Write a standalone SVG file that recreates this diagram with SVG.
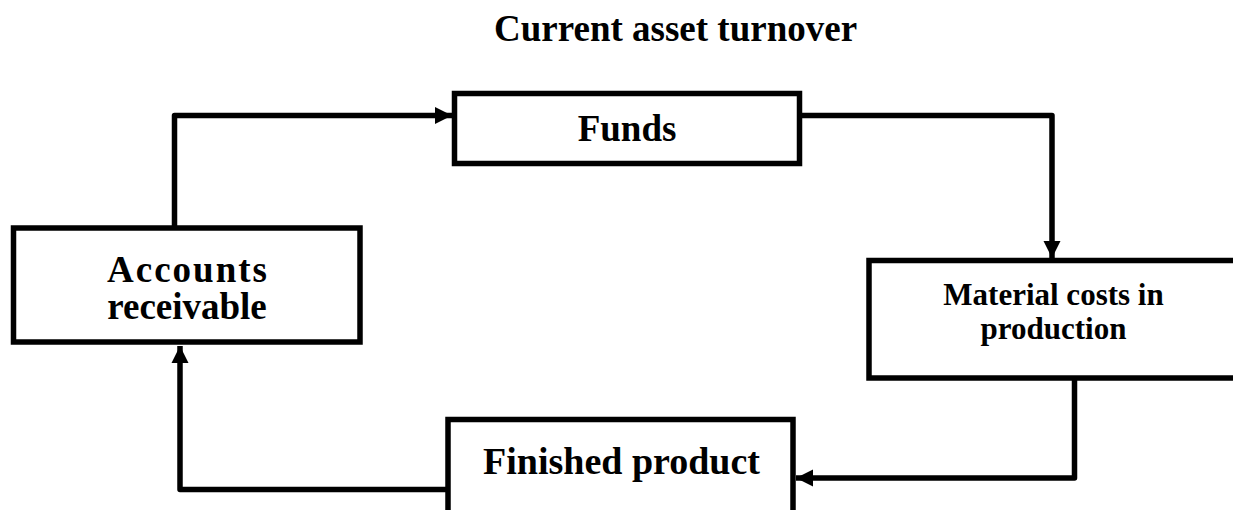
<svg xmlns="http://www.w3.org/2000/svg" width="1233" height="510" viewBox="0 0 1233 510">
<style>
.box{fill:#fff;stroke:#000;stroke-width:5.5}
.lbl{font-family:"Liberation Serif","Times New Roman",serif;font-weight:bold;fill:#000;text-anchor:middle}
.conn{fill:none;stroke:#000;stroke-width:5.5;stroke-linejoin:round}
</style>
<defs>
<marker id="ah" viewBox="0 0 10 10" refX="10" refY="5" markerWidth="17" markerHeight="18" markerUnits="userSpaceOnUse" orient="auto">
<path d="M0,0 L10,5 L0,10 Z" fill="#000"/>
</marker>
</defs>
<rect width="1233" height="510" fill="#fff"/>
<text class="lbl" x="494" y="41" font-size="37" style="text-anchor:start">Current asset turnover</text>
<g id="connectors">
<path class="conn" d="M174.5,228 V115.5 H452" marker-end="url(#ah)"/>
<path class="conn" d="M799.5,115.5 H1052 V258" marker-end="url(#ah)"/>
<path class="conn" d="M1074.5,378 V478 H796" marker-end="url(#ah)"/>
<path class="conn" d="M448,489.5 H180 V346" marker-end="url(#ah)"/>
</g>
<g id="funds">
<rect class="box" x="454.5" y="93.5" width="345" height="70"/>
<text class="lbl" x="627" y="141" font-size="37">Funds</text>
</g>
<g id="material">
<rect class="box" x="869" y="260.5" width="400" height="117.5"/>
<text class="lbl" x="1053.5" y="305" font-size="31">Material costs in</text>
<text class="lbl" x="1053.5" y="339" font-size="31">production</text>
</g>
<g id="finished">
<rect class="box" x="448" y="419.5" width="345" height="120"/>
<text class="lbl" x="621.5" y="474" font-size="38">Finished product</text>
</g>
<g id="receivable">
<rect class="box" x="13.5" y="228" width="346.5" height="114"/>
<text class="lbl" x="188" y="282" font-size="37" letter-spacing="2">Accounts</text>
<text class="lbl" x="187" y="319" font-size="37">receivable</text>
</g>
</svg>
